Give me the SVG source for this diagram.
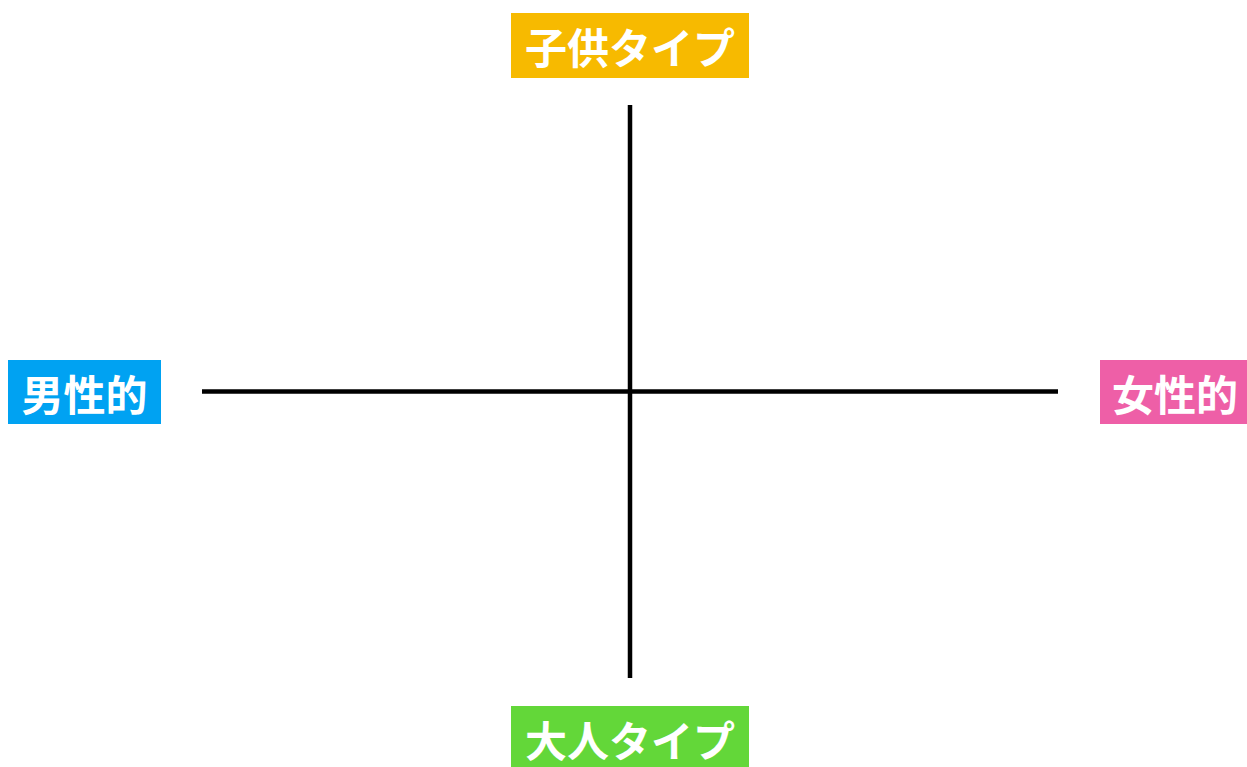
<svg xmlns="http://www.w3.org/2000/svg" width="1247" height="767" viewBox="0 0 1247 767">
<style>
.lbl{font-family:"Noto Sans CJK JP","Noto Sans CJK SC",sans-serif;font-size:42px;font-weight:bold;fill:#fff;text-anchor:middle;dominant-baseline:central}
.ax{stroke:#000;stroke-width:4.5;fill:none}
</style>
<rect width="1247" height="767" fill="#fff"/>
<g id="connectors">
<line class="ax" x1="630" y1="105" x2="630" y2="678"/>
<line class="ax" x1="202" y1="391.5" x2="1058" y2="391.5"/>
</g>
<g id="top">
<rect x="511" y="13" width="238" height="65" fill="#F7BA00"/>
<text class="lbl" x="630" y="45.5">子供タイプ</text>
</g>
<g id="left">
<rect x="8" y="360" width="153" height="64" fill="#00A2F2"/>
<text class="lbl" x="84.5" y="392">男性的</text>
</g>
<g id="right">
<rect x="1100" y="360" width="147" height="64" fill="#EE5FA7"/>
<text class="lbl" x="1175" y="392">女性的</text>
</g>
<g id="bottom">
<rect x="511" y="706" width="238" height="61" fill="#63D739"/>
<text class="lbl" x="630" y="738">大人タイプ</text>
</g>
</svg>
